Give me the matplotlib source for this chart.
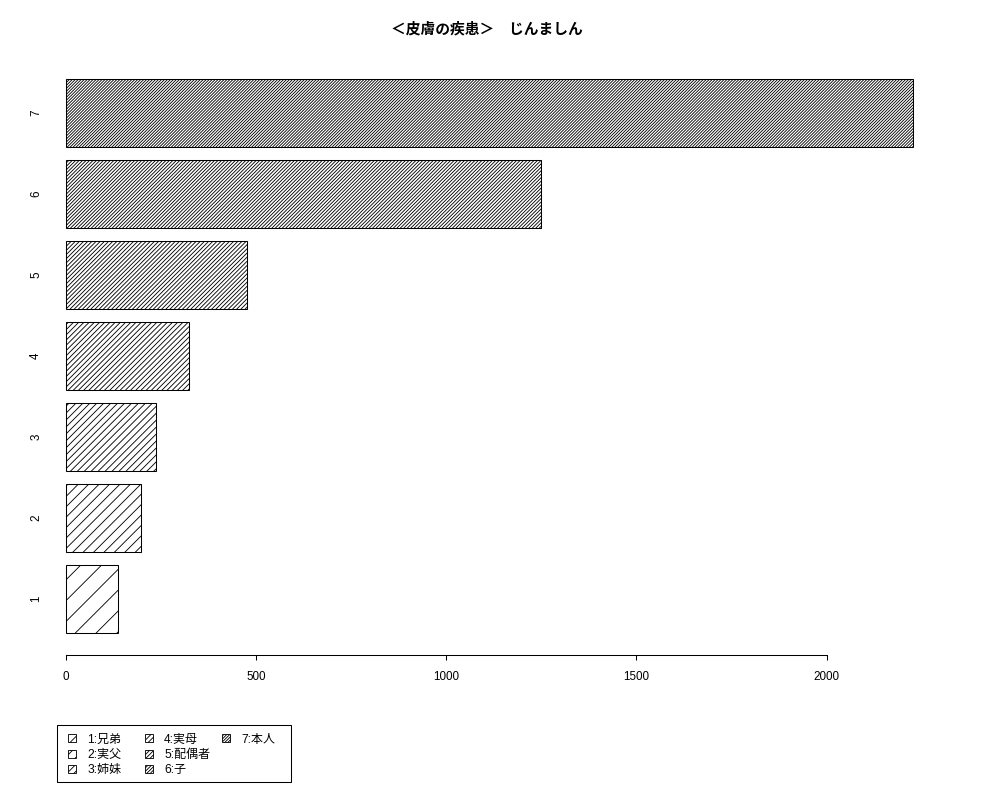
import matplotlib
matplotlib.use('Agg')
import matplotlib.pyplot as plt
import matplotlib.patches as mpatches
import numpy as np

# ---- data ----
categories = ['1', '2', '3', '4', '5', '6', '7']
values = [138, 199, 238, 325, 477, 1250, 2228]
legend_labels = ['1:兄弟', '2:実父', '3:姉妹', '4:実母', '5:配偶者', '6:子', '7:本人']
xticks = [0, 500, 1000, 1500, 2000]
title = '＜皮膚の疾患＞　じんましん'

plt.rcParams['font.family'] = ['Liberation Sans', 'Noto Sans CJK JP', 'DejaVu Sans']
plt.rcParams['hatch.linewidth'] = 0.5
plt.rcParams['hatch.color'] = 'black'

DPI = 125
fig = plt.figure(figsize=(1000 / DPI, 800 / DPI), dpi=DPI)

# axes placed like R's plot region
ax = fig.add_axes([31.8 / 1000, 1 - 654.8 / 800, 915.5 / 1000, 597.6 / 800])

pos = 0.7 + 1.2 * np.arange(len(values))
# hatch density grows with the category (R density = 5, 10, ..., 35)
hatches = ['/' * (2 * (i + 1)) for i in range(len(values))]
bars = ax.barh(pos, values, height=1.0, color='white', edgecolor='black', linewidth=0.6)
for b, h in zip(bars, hatches):
    b.set_hatch(h)

vmax = max(values)
ax.set_xlim(-0.04 * vmax, 1.04 * vmax)
lo, hi = pos[0] - 0.5, pos[-1] + 0.5
span = hi - lo
ax.set_ylim(lo - 0.04 * span, hi + 0.04 * span)

for s in ['top', 'right', 'left']:
    ax.spines[s].set_visible(False)
ax.spines['bottom'].set_bounds(xticks[0], xticks[-1])
ax.spines['bottom'].set_linewidth(0.6)

ax.set_xticks(xticks)
ax.set_xticklabels([str(t) for t in xticks])
ax.tick_params(axis='x', length=2.9, width=0.6, pad=6.6, labelsize=6.7)

ax.set_yticks(pos)
ax.set_yticklabels(categories)
ax.tick_params(axis='y', length=0, pad=-6.0, labelsize=6.7)
for lab in ax.get_yticklabels():
    lab.set_rotation(90)
    lab.set_va('center')

fig.text(0.4865, 1 - 28 / 800, title, ha='center', va='center', fontsize=8.5,
         fontweight='bold', family=['Noto Sans CJK JP', 'DejaVu Sans'])

# legend: three columns laid out like R (uniform column widths)
handles = [mpatches.Patch(facecolor='white', edgecolor='black', linewidth=0.5, hatch=h)
           for h in hatches]
col_x = [68, 145, 222]
for c in range(3):
    hs = handles[c * 3:(c + 1) * 3]
    ls = legend_labels[c * 3:(c + 1) * 3]
    if not hs:
        continue
    fig.legend(hs, ls, loc='upper left', bbox_to_anchor=(col_x[c] / 1000, 1 - 733.5 / 800),
               bbox_transform=fig.transFigure, frameon=False, borderpad=0,
               borderaxespad=0, handlelength=0.65, handleheight=0.65,
               handletextpad=0.95, labelspacing=0.27, fontsize=6.9)

fig.add_artist(mpatches.Rectangle((57 / 1000, 1 - 782 / 800), 234 / 1000, 57 / 800,
                                  transform=fig.transFigure, fill=False,
                                  edgecolor='black', linewidth=0.6))

fig.savefig('out.png', dpi=DPI)
